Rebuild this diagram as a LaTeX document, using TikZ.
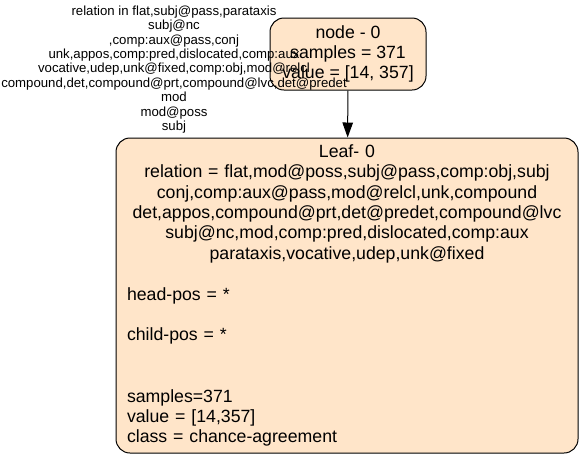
\documentclass[tikz,border=0pt]{standalone}
\usepackage{fontspec}
\setmainfont{Liberation Sans}
\usetikzlibrary{arrows.meta}
\definecolor{boxfill}{RGB}{255,229,201}
\begin{document}
\begin{tikzpicture}[x=1pt,y=-1pt,
  treebox/.style={draw=black, line width=1pt, fill=boxfill, rounded corners=14pt, inner sep=0pt},
  nodefont/.style={font=\fontsize{17.7}{20.4}\selectfont},
  edgefont/.style={font=\fontsize{13.2}{14.4}\selectfont},
  conn/.style={draw=black, line width=1pt, -{Triangle[length=15pt,width=10.5pt]}}]
\useasboundingbox (0,0) rectangle (585,459);
\node[treebox, nodefont, minimum width=156pt, minimum height=72pt, align=center] (n0) at (348,54)
  {node - 0\\samples = 371\\value = [14, 357]};
\node[treebox, nodefont, minimum width=462pt, minimum height=315pt, text width=440pt, align=left] (leaf) at (347,295.5)
  {\makebox[440pt][c]{Leaf- 0}\\
   \makebox[440pt][c]{relation = flat,mod@poss,subj@pass,comp:obj,subj}\\
   \makebox[440pt][c]{conj,comp:aux@pass,mod@relcl,unk,compound}\\
   \makebox[440pt][c]{det,appos,compound@prt,det@predet,compound@lvc}\\
   \makebox[440pt][c]{subj@nc,mod,comp:pred,dislocated,comp:aux}\\
   \makebox[440pt][c]{parataxis,vocative,udep,unk@fixed}\\
   \mbox{}\\
   head-pos = *\\
   \mbox{}\\
   child-pos = *\\
   \mbox{}\\
   \mbox{}\\
   samples=371\\
   value = [14,357]\\
   class = chance-agreement};
\draw[conn] (n0) -- (leaf);
\node[edgefont, align=center, inner sep=0pt] (lbl) at (174,69.5)
  {relation in flat,subj@pass,parataxis\\
   subj@nc\\
   ,comp:aux@pass,conj\\
   unk,appos,comp:pred,dislocated,comp:aux\\
   vocative,udep,unk@fixed,comp:obj,mod@relcl\\
   compound,det,compound@prt,compound@lvc,det@predet\\
   mod\\
   mod@poss\\
   subj};
\end{tikzpicture}
\end{document}
